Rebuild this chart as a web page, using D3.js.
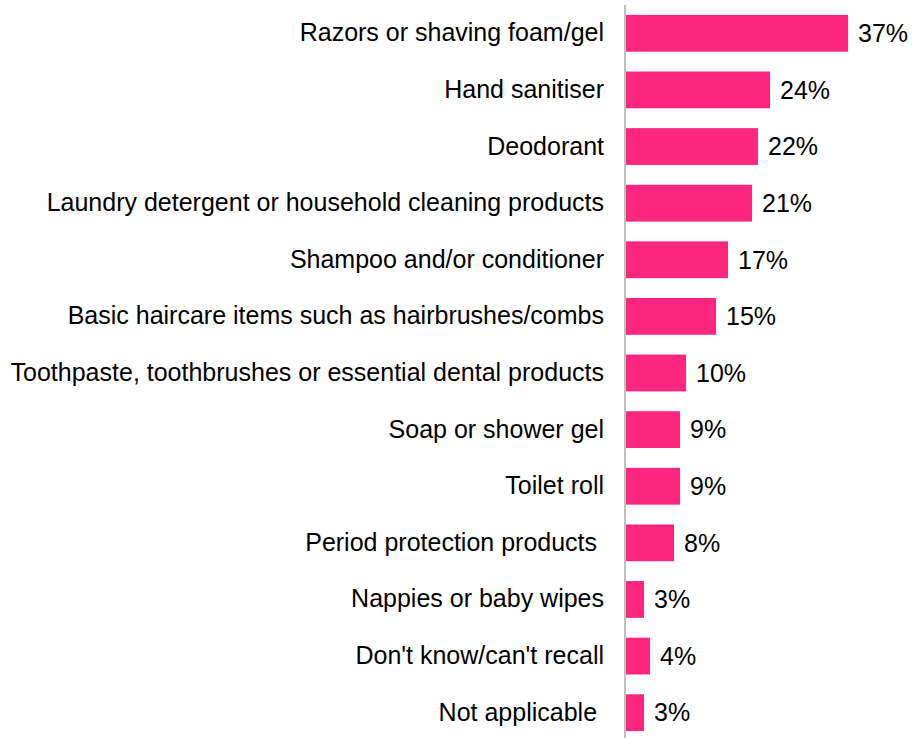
<!DOCTYPE html>
<html>
<head>
<meta charset="utf-8">
<script src="https://cdn.jsdelivr.net/npm/d3@7"></script>
<style>
  html, body { margin: 0; padding: 0; background: #fff; }
  svg { display: block; }
  text { font-family: "Liberation Sans", Arial, sans-serif; fill: #000; white-space: pre; }
</style>
</head>
<body>
<div id="chart"></div>
<script>
// Products bought, share of respondents
const categories = [
  "Razors or shaving foam/gel",
  "Hand sanitiser",
  "Deodorant",
  "Laundry detergent or household cleaning products",
  "Shampoo and/or conditioner",
  "Basic haircare items such as hairbrushes/combs",
  "Toothpaste, toothbrushes or essential dental products",
  "Soap or shower gel",
  "Toilet roll",
  "Period protection products ",
  "Nappies or baby wipes",
  "Don't know/can't recall",
  "Not applicable "
];
const values = [37, 24, 22, 21, 17, 15, 10, 9, 9, 8, 3, 4, 3];

const width = 912, height = 738;
const axisX = 625;
const fontSize = 25;

const svg = d3.select("#chart").append("svg")
  .attr("width", width)
  .attr("height", height);

const x = d3.scaleLinear().domain([0, 37]).range([axisX, 847]);
const y = d3.scaleBand().domain(categories).range([5, 741]).paddingInner(0.35).paddingOuter(0.175);

const rows = categories.map((c, i) => ({ c, v: values[i] }));

svg.selectAll("rect.bar").data(rows).join("rect")
  .attr("class", "bar")
  .attr("x", x(0) + 1)
  .attr("y", d => y(d.c))
  .attr("width", d => x(d.v) - x(0))
  .attr("height", y.bandwidth())
  .attr("fill", "#ff2680");

// category axis
const yAxis = d3.axisLeft(y).tickSize(0).tickPadding(21);
const ag = svg.append("g").attr("transform", `translate(${axisX},0)`).call(yAxis);
ag.select(".domain").remove();
ag.selectAll("text")
  .attr("font-size", fontSize)
  .attr("font-family", "Liberation Sans, Arial, sans-serif")
  .attr("fill", "#000")
  .style("white-space", "pre");

svg.append("line")
  .attr("x1", axisX).attr("x2", axisX)
  .attr("y1", 5).attr("y2", height)
  .attr("stroke", "#bfbfbf").attr("stroke-width", 2);

svg.selectAll("text.val").data(rows).join("text")
  .attr("class", "val")
  .attr("x", d => x(d.v) + 11)
  .attr("y", d => y(d.c) + y.bandwidth() / 2)
  .attr("dy", "0.35em")
  .attr("font-size", fontSize)
  .text(d => d.v + "%");
</script>
</body>
</html>
